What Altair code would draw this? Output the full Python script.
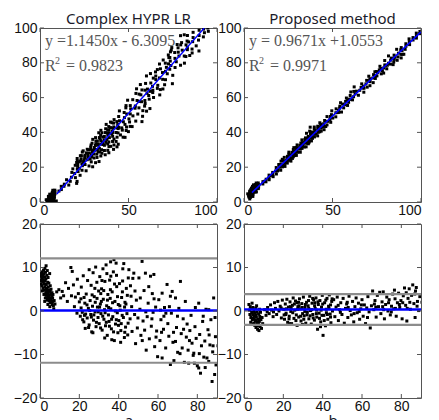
import altair as alt
import pandas as pd

# ---------------------------------------------------------------
# Values.  Each point is (mean, difference) as shown in the
# Bland-Altman panels; the upper scatter panels show the same measurements as
# reference = mean + diff/2, estimate = mean - diff/2.
# ---------------------------------------------------------------
hypr_low = [
    (0.5, 8.0), (0.5, 7.0), (0.6, 6.2), (0.8, 8.6), (1.0, 7.5), (1.0, 5.8), (1.2, 9.0), (1.3, 6.8), (1.5, 8.1), (1.5, 5.2),
    (1.7, 7.2), (1.8, 9.4), (2.0, 6.3), (2.0, 8.5), (2.2, 4.8), (2.3, 7.8), (2.5, 9.8), (2.5, 5.6), (2.6, 6.9), (2.8, 8.9),
    (2.9, 4.2), (3.0, 7.4), (3.1, 10.4), (3.2, 6.1), (3.3, 3.6), (3.5, 8.2), (3.5, 5.0), (3.7, 9.3), (3.8, 4.4), (3.9, 6.6),
    (4.0, 2.9), (4.1, 7.7), (4.2, 5.5), (4.3, 3.5), (4.5, 6.4), (4.6, 2.3), (4.7, 4.8), (4.9, 8.6), (5.0, 3.0), (5.2, 5.8),
    (5.3, 1.9), (5.5, 4.0), (5.7, 2.6), (6.0, 3.4), (6.2, 1.5), (6.5, 2.2), (7.0, 0.5), (2.0, 3.8), (1.2, 4.6), (3.6, 2.5),
    (2.7, 3.0), (3.0, 5.2), (3.4, 4.5), (3.8, 3.0), (4.1, 4.0), (4.4, 2.7), (4.8, 3.7), (5.1, 4.5), (5.4, 2.8), (5.6, 5.0),
    (5.9, 2.0), (6.1, 4.2), (6.4, 3.0), (6.8, 1.2), (7.2, 2.4), (7.6, 1.6), (2.4, 2.2), (4.0, 1.5), (5.0, 1.0), (6.6, 3.8),
]
hypr_rise = [
    (8.5, 4.4), (9.6, 4.9), (10.5, 3.0), (11.3, 4.5), (12.0, 3.5), (13.0, 6.5), (13.9, 2.2), (14.5, 5.2), (15.7, 10.0),
    (16.0, 3.5), (16.4, 9.1), (17.0, 6.0), (17.5, 1.0), (18.0, 3.2), (18.8, -0.5), (19.0, 7.3), (19.5, 4.0), (20.0, 2.1),
]
hypr_core = [
    (20.5, -1.2), (21.0, 5.5), (21.5, -0.3), (22.0, 8.1), (22.3, -2.5), (22.8, 1.8), (23.0, -4.0), (23.5, 3.9), (24.0, -1.6),
    (24.2, 7.0), (24.6, 0.6), (25.0, -3.2), (25.0, 9.5), (20.8, 2.8), (22.6, -1.0),
    (25.5, 2.4), (25.8, -0.8), (26.0, 5.9), (26.3, -4.8), (26.7, 1.1), (27.0, 8.8), (27.2, -2.1), (27.6, 3.3), (28.0, -0.2),
    (28.3, 10.1), (28.5, -3.6), (28.9, 6.6), (29.2, 0.9), (29.5, -1.5), (29.8, 4.6), (26.9, -5.0), (28.1, 2.0),
    (30.1, -2.9), (30.4, 7.9), (30.7, 1.6), (31.0, -0.6), (31.3, 5.1), (31.6, -4.4), (32.0, 9.7), (32.2, 2.7), (32.5, -1.9),
    (32.8, 0.3), (33.0, 6.8), (33.3, -3.4), (33.6, 10.6), (33.9, 1.2), (34.2, -5.6), (34.5, 3.8), (34.8, -0.9), (30.9, 4.0),
    (32.9, -6.2), (34.0, 8.6),
    (35.1, -2.4), (35.4, 7.1), (35.9, 11.3), (36.0, 0.5), (36.3, -4.1), (36.7, 4.4), (37.0, -1.3), (37.3, 9.0), (37.6, 11.8),
    (37.8, -6.8), (38.1, 2.2), (38.4, -3.0), (38.7, 11.0), (39.0, 5.6), (39.3, -0.4), (39.6, -5.0), (39.8, 1.5), (36.5, -6.6),
    (38.9, 8.2), (35.7, 2.9),
    (40.1, -2.2), (40.4, 6.3), (40.8, 0.2), (41.1, -4.5), (41.5, 3.1), (41.8, -1.0), (42.1, 9.7), (42.6, 10.9), (42.9, -6.1),
    (43.2, 2.0), (43.5, -3.7), (43.9, 5.2), (44.2, -0.6), (44.6, -5.5), (44.9, 7.6), (41.0, -7.2), (43.0, 0.9),
]
hypr_core_dense = [
    (20.9, 0.7), (21.7, -2.0), (22.4, 3.1), (23.2, -0.7), (23.9, 1.4), (24.7, -3.8), (25.3, 0.1), (26.1, -1.4), (26.5, 3.7),
    (27.4, -0.9), (27.9, 5.2), (28.7, -2.6), (29.0, 2.9), (29.6, -0.2), (30.3, 0.9), (30.8, -3.9), (31.2, 2.2), (31.9, -1.2),
    (32.4, 4.7), (33.1, -0.4), (33.7, -2.6), (34.3, 2.5), (34.9, 0.8), (35.3, -3.5), (35.8, 4.9), (36.4, -1.9), (36.9, 1.9),
    (37.4, -4.8), (37.9, 6.2), (38.3, 0.0), (38.8, -2.0), (39.4, 3.3), (39.9, -3.3), (40.6, 1.2), (41.3, -2.9), (41.9, 4.4),
    (42.4, -1.5), (43.1, -4.9), (43.7, 1.6), (44.4, 3.6), (44.8, -2.8), (42.0, 6.9), (36.0, 8.0), (31.5, 7.0),
]
hypr_mid = [
    (45.2, 9.5), (45.8, -1.8), (46.3, 3.4), (46.8, -4.7), (47.2, 7.5), (47.7, 8.7), (48.1, -0.8), (48.6, -7.5), (49.0, 2.5),
    (49.5, -3.9), (50.3, 7.6), (50.8, 0.4), (51.3, -5.6), (51.9, 11.4), (52.4, -2.3), (52.9, 4.7), (53.6, 8.7), (54.0, -9.0),
    (54.5, -1.3), (55.0, 1.8), (55.6, -6.4), (56.2, 8.0), (56.6, -3.5), (57.1, 4.0), (57.9, 8.4), (58.3, -8.2), (58.8, 0.9),
    (59.3, -4.6), (59.8, -10.5), (46.0, 5.8), (53.2, -4.4), (57.5, -0.3),
    (46.6, 1.0), (48.3, 4.6), (49.8, -1.6), (51.0, 3.0), (52.0, -6.8), (53.8, -0.2), (55.3, 5.6), (56.9, -1.8), (58.0, 2.8),
    (59.0, -6.0),
]
hypr_upper = [
    (60.4, 2.6), (61.0, -6.8), (61.5, -2.0), (62.1, 4.1), (62.1, -10.8), (62.8, -4.2), (63.3, 0.8), (63.9, -8.5), (64.6, 6.1),
    (65.0, -2.9), (65.5, -5.8), (66.3, 3.4), (66.3, -12.3), (66.8, -0.5), (67.2, 4.5), (67.6, -7.2), (68.1, -11.4), (68.9, 3.0),
    (68.9, -7.0), (69.4, -3.8), (70.0, -9.5), (70.6, 0.6), (71.4, 6.8), (71.8, -5.2), (72.3, -8.5), (72.8, -1.8), (73.4, -11.8),
    (73.9, 2.2), (74.4, -6.0), (74.8, -3.0), (61.3, 0.2), (64.0, -0.5),
    (61.8, -4.9), (63.0, -1.2), (65.8, 1.0), (67.9, -4.9), (69.9, -1.2), (71.2, -9.8), (73.0, -4.2),
]
hypr_top = [
    (75.3, -9.0), (75.6, -12.0), (76.2, -4.5), (76.8, -1.0), (77.3, -7.4), (77.9, -10.2), (78.2, -9.7), (78.8, -3.6),
    (79.4, -6.3), (80.0, -12.6), (80.7, 1.8), (80.7, -13.1), (81.2, -5.4), (81.6, -14.3), (82.1, -8.0), (82.7, -2.4),
    (83.3, -10.6), (83.8, -6.9), (84.4, 0.4), (84.9, -10.8), (85.4, -4.3), (85.8, 0.3), (85.8, -11.6), (86.4, -7.8),
    (86.9, -2.0), (87.5, -16.2), (87.8, -9.4), (88.3, 3.0), (88.8, -14.6), (89.2, -5.9), (89.5, -12.4), (79.0, 0.8), (83.0, -1.2),
    (76.0, -6.8), (78.5, -12.0), (81.0, -9.8), (84.0, -13.0), (86.0, -5.5), (88.0, -8.0), (89.0, -1.5),
]
hypr_beyond = [
    (90.5, -8.0), (91.3, -3.5), (92.0, -11.0), (92.8, -5.8), (93.6, -2.6), (94.3, -8.8), (95.1, -4.4), (95.9, -6.9),
    (96.6, -3.0), (97.4, -5.2),
]

prop_low = [
    (2.5, 1.5), (2.8, 0.2), (3.0, -0.8), (3.2, 1.0), (3.5, -1.5), (3.6, 0.5), (3.9, -0.3), (4.1, 1.8), (4.2, -2.0), (4.4, -0.9),
    (4.6, 0.8), (4.8, -1.7), (5.0, -2.8), (5.1, 0.1), (5.3, -1.1), (5.5, -3.3), (5.6, -0.4), (5.8, -2.2), (6.0, 0.6), (6.1, -3.8),
    (6.3, -1.4), (6.5, -2.7), (6.7, -0.2), (6.9, -4.2), (7.0, -1.9), (7.2, -3.1), (7.4, -0.7), (7.6, -4.5), (7.8, -2.4), (8.0, -1.2),
    (8.2, -3.6), (8.4, -0.3), (8.6, -2.0), (8.9, -4.0), (9.2, -1.5), (9.5, -2.9), (3.4, -2.6), (4.7, -3.0), (6.4, 1.2), (7.9, 0.4),
    (5.2, -1.9), (6.2, -2.3), (7.3, -2.6), (8.3, -1.7), (5.9, -0.9), (6.8, -3.4), (7.7, -3.3), (4.3, -0.4),
]
prop_rise = [
    (10.5, 0.3), (11.2, -1.0), (12.0, 0.8), (12.8, -0.6), (13.5, 1.4), (14.0, 0.2), (14.8, -1.3), (15.5, 1.9), (16.0, 0.6),
    (16.6, -0.8), (17.2, 2.2), (17.8, 0.0), (18.4, 1.1), (19.0, -1.6), (19.5, 2.5), (11.8, -0.2), (15.0, -0.2), (18.9, 0.7),
]
prop_core = [
    (20.2, 0.4), (20.6, -1.9), (21.0, 1.6), (21.4, -0.5), (21.8, 2.7), (22.2, -2.6), (22.6, 0.9), (23.0, -1.2), (23.4, 2.1), (23.8, -0.1),
    (24.2, -2.9), (24.6, 1.3), (25.0, 3.0), (25.4, -1.7), (25.8, 0.2), (26.2, 2.3), (26.6, -0.9), (27.0, -3.3), (27.4, 1.0), (27.8, -1.4),
    (28.2, 2.8), (28.6, 0.5), (29.0, -2.3), (29.4, 1.7), (29.8, -0.6), (30.2, 3.2), (30.6, -1.1), (31.0, 0.8), (31.4, -2.8), (31.8, 2.0),
    (32.2, -0.3), (32.6, 1.2), (33.0, -1.8), (33.4, 3.4), (33.8, 0.1), (34.2, -3.0), (34.6, 1.8), (35.0, -0.8), (35.4, 2.6), (35.8, -2.1),
    (36.2, 0.6), (36.6, 3.0), (37.0, -1.4), (37.4, -4.2), (37.8, 1.5), (38.2, -0.5), (38.6, 2.4), (39.0, -2.5), (39.4, 0.9), (39.8, 3.6),
    (40.2, -5.6), (40.6, -1.0), (41.0, 1.9), (41.4, -3.4), (41.8, 0.4), (42.2, 2.9), (42.6, -1.9), (43.0, 1.1), (43.4, 3.7), (43.8, -0.7),
    (44.2, -2.7), (44.6, 2.2), (45.0, 0.0), (21.2, -0.8), (24.0, 0.7), (26.9, 1.9), (29.7, -3.1), (32.9, 0.6), (35.9, 1.2), (38.9, -3.6),
    (41.9, -0.4), (44.0, 1.4), (30.9, -0.1), (36.9, 0.2),
]
prop_core_dense = [
    (20.4, -0.9), (21.6, 0.5), (22.9, -1.8), (23.6, 1.0), (24.8, -0.4), (25.6, 1.6), (26.4, -2.2), (27.2, 0.4), (28.0, 1.2),
    (28.8, -1.2), (29.6, 0.8), (30.4, -1.9), (31.2, 1.5), (32.0, -0.9), (32.8, 2.4), (33.6, -1.1), (34.4, 0.3), (35.2, -1.6),
    (36.0, 1.9), (36.8, -0.6), (37.6, 2.1), (38.4, -1.7), (39.2, 0.2), (40.0, 1.6), (40.8, -2.2), (41.6, 2.5), (42.4, -0.8),
    (43.2, 0.6), (44.0, -1.4), (44.8, 2.8), (39.6, -1.0), (34.9, 2.9), (27.7, 2.0), (23.1, -2.9),
]
prop_mid = [
    (45.6, 2.6), (46.2, -1.3), (46.8, 0.9), (47.4, 3.2), (48.0, -2.2), (48.6, 0.3), (49.2, 1.9), (49.8, -0.8), (50.4, 2.9), (51.0, -2.8),
    (51.6, 0.6), (52.2, 1.6), (52.8, -1.5), (53.4, 3.4), (54.0, 0.1), (54.6, -0.9), (55.2, 2.2), (55.8, -2.5), (56.4, 1.0), (57.0, 3.0),
    (57.6, -0.4), (58.2, 1.8), (58.8, -1.9), (59.4, 0.5), (60.0, 2.6), (60.6, -1.2), (61.2, 1.4), (61.8, -2.9), (62.4, 0.7), (63.0, 3.3),
    (63.6, -0.2), (64.2, -3.9), (64.8, 1.2), (47.9, 1.3), (53.0, 0.8), (58.6, -0.1),
    (49.0, -0.3), (52.5, 2.0), (56.0, -0.6), (59.7, 1.4), (62.8, -1.5),
]
prop_high = [
    (65.4, 4.6), (66.0, 0.3), (66.6, 2.4), (67.2, -1.4), (67.8, 3.6), (68.4, 1.0), (69.0, 4.3), (69.6, -0.6), (70.2, 2.1), (70.8, 4.4),
    (71.4, -1.8), (72.0, 1.5), (72.6, 3.2), (73.2, 0.0), (73.8, 2.6), (74.4, -0.9), (75.0, 1.1), (75.6, 3.9), (76.2, 0.5), (76.8, 2.8),
    (77.4, -1.2), (78.0, 1.9), (78.6, 4.1), (79.2, 0.8), (79.8, 2.4), (80.4, -1.8), (81.0, 3.5), (81.6, 5.3), (82.2, 1.3), (82.8, -2.3),
    (83.4, 2.9), (84.0, 5.1), (84.6, 0.4), (85.2, 3.6), (85.8, 6.0), (86.4, 1.7), (87.0, -1.5), (87.6, 5.4), (88.2, 2.2), (88.8, 0.1),
    (89.4, 3.3), (67.0, 0.9), (71.0, 0.3), (74.9, -0.2), (79.0, 1.5), (83.0, 0.6), (86.8, 3.9),
    (66.3, 1.6), (70.5, 1.0), (73.5, 1.9), (77.0, 0.6), (80.7, 1.9), (84.3, 2.0), (88.0, 1.1), (76.5, 4.8), (82.5, 4.2), (87.2, 4.6),
]
prop_beyond = [
    (90.5, 2.0), (91.2, 0.5), (92.0, 3.1), (92.8, 1.2), (93.5, -0.5), (94.3, 2.4), (95.0, 1.0), (95.8, 3.2), (96.5, 1.8),
    (97.2, 0.3), (98.0, 2.5), (98.7, 1.4),
]

# Regression lines (from the printed equations) and their visible extent
hypr_fit_x = [9.5, 92.8]
hypr_slope, hypr_intercept = 1.1450, -6.3095
prop_fit_x = [4.5, 100.0]
prop_slope, prop_intercept = 0.9671, 1.0553

# Bland-Altman mean difference and limits of agreement
hypr_bias = [0.1]
hypr_limits = [12.1, -11.9]
prop_bias = [0.37]
prop_limits = [3.9, -3.2]

titles = ["Complex HYPR LR", "Proposed method"]
eq_texts = ["y =1.1450x - 6.3095", "y = 0.9671x +1.0553"]
r2_texts = ["= 0.9823", "= 0.9971"]
ba_titles = ["a", "b"]

scatter_x_ticks = [0, 50, 100]
scatter_y_ticks = [0, 20, 40, 60, 80, 100]
ba_x_ticks = [0, 20, 40, 60, 80]
ba_y_ticks = [-20, -10, 0, 10, 20]

# ---------------------------------------------------------------
W, H = 177, 174
LABEL_FONT = "Liberation Sans Narrow, Arial Narrow, Liberation Sans"
TITLE_FONT = "Noto Sans"
FRAME = "#555555"
PT_SIZE = 9


def make_encodings(xs, ys, xticks, yticks, xtitle=None):
    """Same scale and axis objects for every layer so nothing conflicts."""
    def X(field):
        return alt.X(field, scale=xs, axis=alt.Axis(values=xticks, title=xtitle))

    def Y(field):
        return alt.Y(field, scale=ys, axis=alt.Axis(values=yticks, title=None))
    return X, Y


def frame_ticks(xs_vals, ys_vals, X, Y):
    xdf = pd.DataFrame({"v": xs_vals})
    ydf = pd.DataFrame({"v": ys_vals})
    common = dict(color=FRAME, strokeWidth=1)
    return [
        alt.Chart(ydf).mark_rule(**common).encode(y=Y("v:Q"), x=alt.value(0), x2=alt.value(4)),
        alt.Chart(ydf).mark_rule(**common).encode(y=Y("v:Q"), x=alt.value(W - 4), x2=alt.value(W)),
        alt.Chart(xdf).mark_rule(**common).encode(x=X("v:Q"), y=alt.value(H - 4), y2=alt.value(H)),
        alt.Chart(xdf).mark_rule(**common).encode(x=X("v:Q"), y=alt.value(0), y2=alt.value(4)),
    ]


def scatter_panel(points, title, fit_x, slope, intercept, eq_text, r2_text):
    df = pd.DataFrame(points, columns=["mean", "diff"])
    xs = alt.Scale(domain=[0, 100], nice=False, zero=False)
    ys = alt.Scale(domain=[0, 100], nice=False, zero=False)
    X, Y = make_encodings(xs, ys, scatter_x_ticks, scatter_y_ticks)
    pts = alt.Chart(df).transform_calculate(
        ref="datum.mean + datum.diff / 2",
        est="datum.mean - datum.diff / 2",
    ).mark_square(size=PT_SIZE, color="black", opacity=1, clip=True).encode(x=X("ref:Q"), y=Y("est:Q"))
    fit = alt.Chart(pd.DataFrame({"fx": fit_x})).transform_calculate(
        fy=f"{slope} * datum.fx + ({intercept})"
    ).mark_line(color="#0000ff", strokeWidth=1.5, clip=True).encode(x=X("fx:Q"), y=Y("fy:Q"))
    tstyle = dict(align="left", baseline="alphabetic", font="Liberation Serif", color="#555555")
    one = pd.DataFrame({"k": [0]})
    eq = alt.Chart(one).mark_text(text=eq_text, fontSize=16, **tstyle).encode(x=alt.value(5), y=alt.value(18))
    r = alt.Chart(one).mark_text(text="R", fontSize=16, **tstyle).encode(x=alt.value(5), y=alt.value(43))
    sup = alt.Chart(one).mark_text(text="2", fontSize=10, **tstyle).encode(x=alt.value(15), y=alt.value(36))
    r2 = alt.Chart(one).mark_text(text=r2_text, fontSize=16, **tstyle).encode(x=alt.value(26), y=alt.value(43))
    layers = [pts, fit, eq, r, sup, r2] + frame_ticks(scatter_x_ticks, scatter_y_ticks, X, Y)
    return alt.layer(*layers).properties(
        width=W, height=H,
        title=alt.TitleParams(title, font=TITLE_FONT, fontSize=15, fontWeight="normal",
                              color="#1a1a2a", offset=-6),
    )


def ba_panel(points, bias, limits, xtitle):
    df = pd.DataFrame(points, columns=["mean", "diff"])
    xs = alt.Scale(domain=[0, 90], nice=False, zero=False)
    ys = alt.Scale(domain=[-20, 20], nice=False, zero=False)
    X, Y = make_encodings(xs, ys, ba_x_ticks, ba_y_ticks, xtitle)
    pts = alt.Chart(df).mark_square(size=PT_SIZE, color="black", opacity=1, clip=True).encode(
        x=X("mean:Q"), y=Y("diff:Q")
    )
    lim = alt.Chart(pd.DataFrame({"v": limits})).mark_rule(color="#8c8c8c", strokeWidth=2.2).encode(y=Y("v:Q"))
    mean_line = alt.Chart(pd.DataFrame({"v": bias})).mark_rule(color="#0000ff", strokeWidth=2.5).encode(y=Y("v:Q"))
    layers = [pts, lim, mean_line] + frame_ticks(ba_x_ticks, ba_y_ticks, X, Y)
    return alt.layer(*layers).properties(width=W, height=H)


hypr_all = (hypr_low + hypr_rise + hypr_core + hypr_core_dense + hypr_mid + hypr_upper + hypr_top
            + hypr_beyond)
prop_all = prop_low + prop_rise + prop_core + prop_core_dense + prop_mid + prop_high + prop_beyond

tl = scatter_panel(hypr_all, titles[0], hypr_fit_x, hypr_slope, hypr_intercept, eq_texts[0], r2_texts[0])
tr = scatter_panel(prop_all, titles[1], prop_fit_x, prop_slope, prop_intercept, eq_texts[1], r2_texts[1])
bl = ba_panel(hypr_all, hypr_bias, hypr_limits, ba_titles[0])
br = ba_panel(prop_all, prop_bias, prop_limits, ba_titles[1])

chart = alt.concat(tl, tr, bl, br, columns=2, spacing={"row": 22, "column": 27}, bounds="flush").properties(
    padding={"left": 4, "top": 3, "right": 5, "bottom": 0}
).configure_view(
    stroke=FRAME, strokeWidth=1
).configure_axis(
    domain=False, ticks=False, grid=False,
    labelFont=LABEL_FONT, labelFontSize=14, labelColor="#111111", labelOverlap=False,
    titleFont=TITLE_FONT, titleFontSize=15, titleFontWeight="normal", titleColor="#1a1a2a",
)
chart = chart.configure_axisX(labelPadding=1, titlePadding=0).configure_axisY(labelPadding=3)

chart.save("out.html", embed_options={"renderer": "svg", "actions": False})
